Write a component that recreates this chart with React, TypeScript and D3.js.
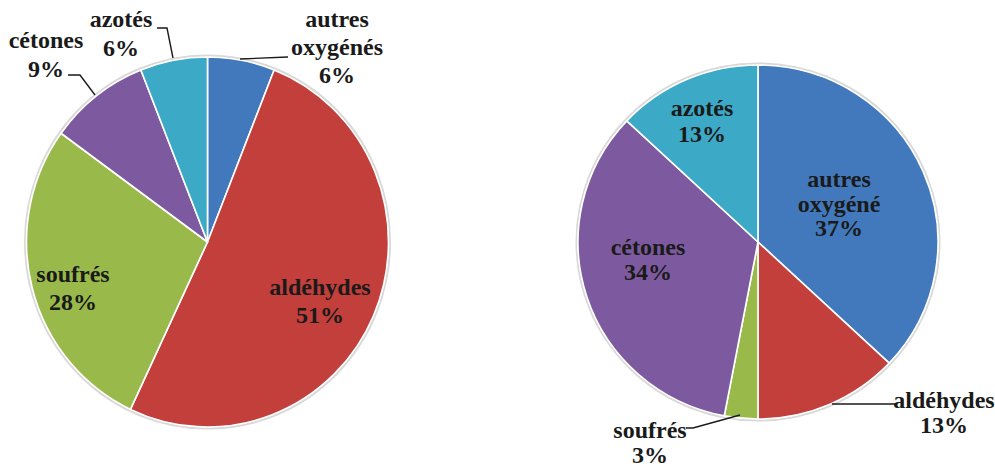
import * as d3 from "d3";

// categories in drawing order (clockwise from 12 o'clock)
const categories = ["autres oxygénés", "aldéhydes", "soufrés", "cétones", "azotés"];
const colors = ["#4279BC", "#C23F3B", "#99BA4B", "#7D5A9F", "#3CAAC6"];

// left pie
const leftValues = [6, 51, 28, 9, 6];
const leftNames = [["autres", "oxygénés"], ["aldéhydes"], ["soufrés"], ["cétones"], ["azotés"]];

// right pie
const rightValues = [37, 13, 3, 34, 13];
const rightNames = [["autres", "oxygéné"], ["aldéhydes"], ["soufrés"], ["cétones"], ["azotés"]];

const W = 995;
const H = 468;
const FONT = "'Times New Roman', 'Liberation Serif', Times, serif";

type LabelPos = { x: number; y: number; lh: number; leader?: [number, number][] };

// label layout (text centre x, y = first baseline)
const leftLabels: LabelPos[] = [
  { x: 337, y: 27, lh: 28, leader: [[288, 57], [240, 59]] },
  { x: 320, y: 295, lh: 28 },
  { x: 73, y: 282, lh: 28 },
  { x: 46, y: 48, lh: 29, leader: [[68, 75], [80, 75], [95, 95]] },
  { x: 121, y: 27, lh: 29, leader: [[157, 28], [167, 28], [173, 58]] },
];
const rightLabels: LabelPos[] = [
  { x: 839, y: 187, lh: 24.5 },
  { x: 944, y: 408, lh: 25, leader: [[895, 404], [832, 404]] },
  { x: 650, y: 438, lh: 25, leader: [[686, 428], [693, 428], [740, 415]] },
  { x: 648, y: 255, lh: 25 },
  { x: 702, y: 116, lh: 26 },
];

const Pie = ({
  values,
  names,
  labels,
  cx,
  cy,
  rx,
  ry,
}: {
  values: number[];
  names: string[][];
  labels: LabelPos[];
  cx: number;
  cy: number;
  rx: number;
  ry: number;
}) => {
  const r = 100;
  const pie = d3
    .pie<number>()
    .sort(null)
    .value((d) => d);
  const arcs = pie(values);
  const arc = d3.arc<d3.PieArcDatum<number>>().innerRadius(0).outerRadius(r);
  const line = d3.line();

  return (
    <g>
      <g transform={`translate(${cx},${cy}) scale(${rx / r},${ry / r})`}>
        <circle r={r + 0.8} fill="none" stroke="#d8d8d8" strokeWidth={1.2} />
        {arcs.map((a, i) => (
          <path
            key={categories[i]}
            d={arc(a) ?? ""}
            fill={colors[i]}
            stroke="#fff"
            strokeWidth={0.9}
            strokeLinejoin="round"
          />
        ))}
      </g>
      {labels.map((l, i) => (
        <g key={i}>
          {l.leader && (
            <path d={line(l.leader) ?? ""} fill="none" stroke="#1a1a1a" strokeWidth={1.4} />
          )}
          {[...names[i], `${values[i]}%`].map((t, j) => (
            <text
              key={j}
              x={l.x}
              y={l.y + j * l.lh}
              style={{
                fontFamily: FONT,
                fontWeight: 700,
                fontSize: "24px",
                textAnchor: "middle",
                fill: "#1a1a1a",
              }}
            >
              {t}
            </text>
          ))}
        </g>
      ))}
    </g>
  );
};

export default function App() {
  return (
    <svg
      width={W}
      height={H}
      viewBox={`0 0 ${W} ${H}`}
      style={{ display: "block", position: "fixed", left: 0, top: 0, background: "#fff" }}
    >
      <Pie values={leftValues} names={leftNames} labels={leftLabels} cx={207.5} cy={242} rx={181} ry={185} />
      <Pie values={rightValues} names={rightNames} labels={rightLabels} cx={758} cy={242} rx={180} ry={177} />
    </svg>
  );
}
